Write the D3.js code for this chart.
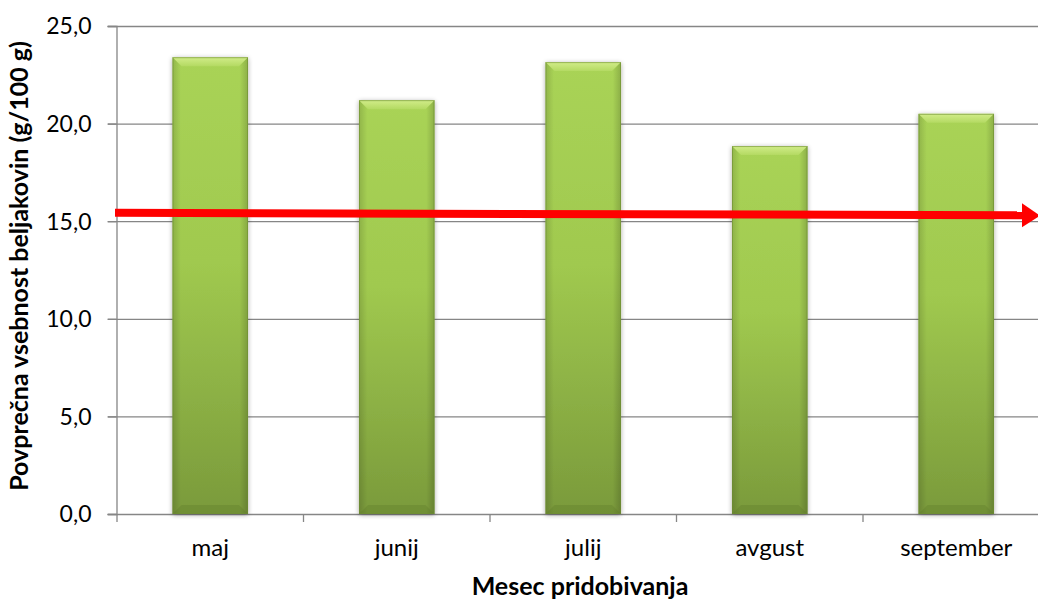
<!DOCTYPE html>
<html><head><meta charset="utf-8">
<script src="https://cdn.jsdelivr.net/npm/d3@7"></script>
<style>
html,body{margin:0;padding:0;background:#fff;}
svg{display:block;font-family:Lato,"Open Sans",sans-serif;}
</style></head>
<body>
<svg id="c" width="1038" height="599"></svg>
<script>
const months = ["maj","junij","julij","avgust","september"];
const protein = [23.4, 21.2, 23.15, 18.85, 20.5];
const yTicks = [0,5,10,15,20,25];
const trendStart = 15.43, trendEnd = 15.3;
const yTitle = "Povprečna vsebnost beljakovin (g/100 g)";
const xTitle = "Mesec pridobivanja";

(function(){
const svg = d3.select("#c");
const pL = 117, pR = 1049.5, pT = 26, pB = 514;
const x = d3.scaleBand().domain(months).range([pL, pR]).padding(0);
const y = d3.scaleLinear().domain([0,25]).range([pB, pT]);
const fmt = v => v.toFixed(1).replace(".", ",");
const grey = "#868686";

const defs = svg.append("defs");
const g1 = defs.append("linearGradient").attr("id","barG").attr("x1",0).attr("y1",0).attr("x2",0).attr("y2",1);
g1.append("stop").attr("offset","0%").attr("stop-color","#a9d356");
g1.append("stop").attr("offset","45%").attr("stop-color","#a0c94f");
g1.append("stop").attr("offset","100%").attr("stop-color","#7a9a3b");
const g2 = defs.append("linearGradient").attr("id","sideG").attr("x1",0).attr("y1",0).attr("x2",1).attr("y2",0);
g2.append("stop").attr("offset","0%").attr("stop-color","#000").attr("stop-opacity",0.14);
g2.append("stop").attr("offset","11%").attr("stop-color","#000").attr("stop-opacity",0);
g2.append("stop").attr("offset","89%").attr("stop-color","#000").attr("stop-opacity",0);
g2.append("stop").attr("offset","100%").attr("stop-color","#000").attr("stop-opacity",0.17);
const g3 = defs.append("linearGradient").attr("id","bevG").attr("x1",0).attr("y1",0).attr("x2",0).attr("y2",1);
g3.append("stop").attr("offset","0%").attr("stop-color","#d4ee8c");
g3.append("stop").attr("offset","100%").attr("stop-color","#b4da63");
const f = defs.append("filter").attr("id","sh").attr("x","-20%").attr("y","-5%").attr("width","140%").attr("height","115%");
f.append("feGaussianBlur").attr("in","SourceAlpha").attr("stdDeviation",2.5).attr("result","b");
f.append("feOffset").attr("in","b").attr("dx",0).attr("dy",1).attr("result","o");
f.append("feComponentTransfer").attr("in","o").attr("result","o2").append("feFuncA").attr("type","linear").attr("slope",0.35);
const m = f.append("feMerge"); m.append("feMergeNode").attr("in","o2"); m.append("feMergeNode").attr("in","SourceGraphic");

// gridlines
svg.append("g").selectAll("line").data(yTicks.filter(d=>d>0)).join("line")
  .attr("x1", pL-9).attr("x2", 1038).attr("y1", d=>y(d)+0.5).attr("y2", d=>y(d)+0.5)
  .attr("stroke", grey).attr("stroke-width",1.3);

// y axis
const yAxis = svg.append("g").attr("transform",`translate(${pL-0.5},0)`)
  .call(d3.axisLeft(y).tickValues(yTicks).tickFormat(fmt).tickSize(9).tickPadding(16));
yAxis.select(".domain").attr("stroke",grey).attr("stroke-width",1.3);
yAxis.selectAll(".tick line").attr("stroke",grey).attr("stroke-width",1.3);
yAxis.selectAll(".tick text").attr("font-size",23).attr("fill","#000").attr("font-family","Lato,sans-serif").attr("dy","0.34em");

// x axis
const xAxis = svg.append("g").attr("transform",`translate(0,${pB+0.5})`)
  .call(d3.axisBottom(x).tickSize(0).tickPadding(24));
xAxis.select(".domain").attr("stroke",grey).attr("stroke-width",1.3).attr("d",`M${pL-9},0H1038`);
xAxis.selectAll(".tick text").attr("font-size",24).attr("fill","#000").attr("font-family","Lato,sans-serif");
svg.append("g").selectAll("line").data(months.concat(["_end"])).join("line")
  .attr("x1", (d,i)=> pL + i*x.step()).attr("x2",(d,i)=> pL + i*x.step())
  .attr("y1", pB).attr("y2", pB+8).attr("stroke",grey).attr("stroke-width",1.3);

// bars
const bw = x.bandwidth()*0.405;
const bars = svg.append("g").selectAll("g").data(months).join("g")
  .attr("transform",(d)=>`translate(${x(d)+x.bandwidth()/2-bw/2},0)`);
bars.append("rect").attr("x",0).attr("width",bw)
  .attr("y",(d,i)=>y(protein[i])).attr("height",(d,i)=>pB-y(protein[i]))
  .attr("fill","url(#barG)").attr("filter","url(#sh)");
bars.append("rect").attr("x",0).attr("width",bw)
  .attr("y",(d,i)=>y(protein[i])).attr("height",(d,i)=>pB-y(protein[i]))
  .attr("fill","url(#sideG)");
const bev = 9;
bars.append("path").attr("d",(d,i)=>{const t=y(protein[i]);return `M0,${t}H${bw}L${bw-bev},${t+bev}H${bev}Z`;})
  .attr("fill","url(#bevG)").attr("opacity",0.95);
bars.append("path").attr("d",()=>`M0,${pB}H${bw}L${bw-bev},${pB-bev}H${bev}Z`)
  .attr("fill","#5f7c2b").attr("opacity",0.35);
bars.append("rect").attr("x",0.5).attr("width",bw-1)
  .attr("y",(d,i)=>y(protein[i])+0.5).attr("height",(d,i)=>pB-y(protein[i])-1)
  .attr("fill","none").attr("stroke","#6e8d33").attr("stroke-width",1).attr("opacity",0.6);

// trend arrow
const xs = d3.scaleLinear().domain([0,1]).range([pL-2, 1024]);
const ya = y(trendStart), yb = y(trendEnd);
svg.append("line").attr("x1",xs(0)).attr("y1",ya).attr("x2",xs(1)).attr("y2",yb)
  .attr("stroke","#ff0000").attr("stroke-width",8);
svg.append("path").attr("d",`M${xs(1)-2},${yb-12}L1040,${yb+0.3}L${xs(1)-2},${yb+12}Z`).attr("fill","#ff0000");

// titles
svg.append("text").attr("transform",`translate(28,266) rotate(-90)`)
  .attr("text-anchor","middle").attr("font-size",25).attr("font-weight","bold").attr("font-family","Lato,sans-serif").text(yTitle);
svg.append("text").attr("x",580).attr("y",595).attr("text-anchor","middle")
  .attr("font-size",25).attr("font-weight","bold").attr("font-family","Lato,sans-serif").text(xTitle);
})();
</script>
</body></html>
